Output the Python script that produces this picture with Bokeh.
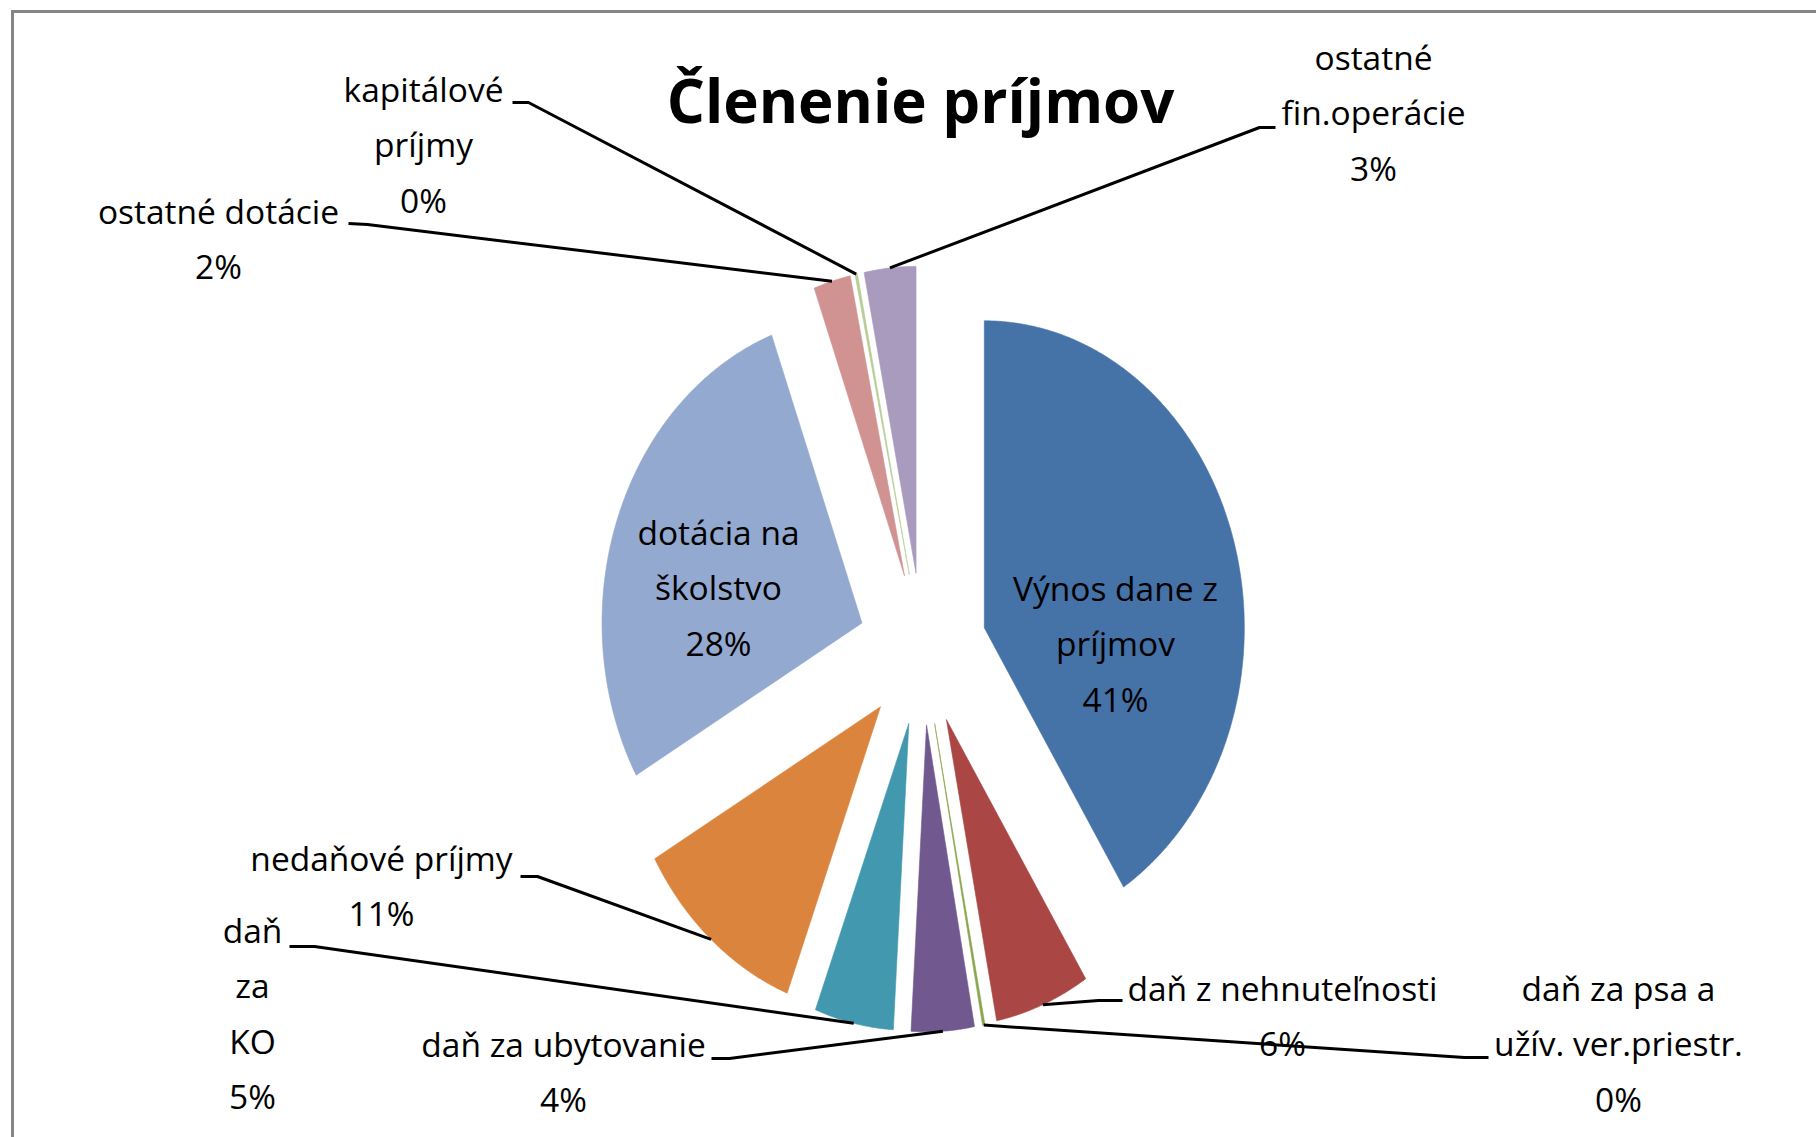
import numpy as np
from bokeh.plotting import figure
from bokeh.models import Range1d, ColumnDataSource
from bokeh.core.properties import value
from bokeh.embed import file_html
from bokeh.resources import INLINE

# ---------------- data ----------------
categories = [
    "Výnos dane z príjmov",
    "daň z nehnuteľnosti",
    "daň za psa a užív. ver.priestr.",
    "daň za ubytovanie",
    "daň za KO",
    "nedaňové príjmy",
    "dotácia na školstvo",
    "ostatné dotácie",
    "kapitálové príjmy",
    "ostatné fin.operácie",
]
shares = [41.0, 5.9, 0.15, 3.9, 4.9, 10.9, 27.6, 2.3, 0.15, 3.2]
colors = ["#4572A7", "#AA4643", "#89A54E", "#71588F", "#4198AF",
          "#DB843D", "#93A9CF", "#D19392", "#B9CD96", "#A99BBD"]
label_lines = [
    ["Výnos dane z", "príjmov"],
    ["daň z nehnuteľnosti"],
    ["daň za psa a", "užív. ver.priestr."],
    ["daň za ubytovanie"],
    ["daň", "za", "KO"],
    ["nedaňové príjmy"],
    ["dotácia na", "školstvo"],
    ["ostatné dotácie"],
    ["kapitálové", "príjmy"],
    ["ostatné", "fin.operácie"],
]
title_text = "Členenie príjmov"

# ---------------- layout (page pixels) ----------------
W, H = 1816, 1137
CX, CY = 922.0, 648.5
RX, RY = 260.0, 307.0
EXPLODE = 76.0
LINE_H = 55.5
LABEL_SIZE = 33.5
TITLE_SIZE = 60
BASE_SHIFT = 0.47  # em: renderer places 'alphabetic' text lower than the true baseline
# label block: center x, first baseline, leader attach point, elbow point
label_layout = [
    (1115, 603, None, None),
    (1282, 1003, (1122, 1000), (1098, 1000)),
    (1618, 1003, (1488, 1057), (1464, 1057)),
    (563, 1059, (711, 1058), (729, 1058)),
    (252, 945, (289, 946), (314, 946)),
    (381, 873, (520, 876), (537, 876)),
    (718, 547, None, None),
    (218, 226, (348, 223), (367, 224)),
    (423, 104, (512, 102), (528, 102)),
    (1373, 72, (1275, 127), (1259, 127)),
]

p = figure(width=W, height=H, output_backend="svg", toolbar_location=None,
           x_range=Range1d(0, W), y_range=Range1d(H, 0),
           x_axis_type=None, y_axis_type=None, min_border=0)
p.grid.visible = False
p.outline_line_color = None
p.background_fill_color = "white"

# chart border (top and left visible)
p.line([10.5, W], [11, 11], line_color="#868686", line_width=3)
p.line([12, 12], [10, H], line_color="#868686", line_width=3)

total = float(sum(shares))
cum = np.concatenate([[0.0], np.cumsum(shares)]) / total * 360.0

xs, ys, anchors = [], [], []
for i, v in enumerate(shares):
    a0, a1 = np.radians(cum[i]), np.radians(cum[i + 1])
    bis = 0.5 * (a0 + a1)
    ox = CX + np.sin(bis) * EXPLODE * RX / RY
    oy = CY - np.cos(bis) * EXPLODE
    n = max(3, int(np.degrees(a1 - a0) * 2) + 3)
    t = np.linspace(a0, a1, n)
    xs.append([ox] + list(ox + RX * np.sin(t)))
    ys.append([oy] + list(oy - RY * np.cos(t)))
    anchors.append((ox + RX * np.sin(bis), oy - RY * np.cos(bis)))

src = ColumnDataSource(dict(xs=xs, ys=ys, color=colors, name=categories))
p.patches("xs", "ys", source=src, fill_color="color", line_color="color",
          line_width=0.6)

# labels
tx, ty, tt = [], [], []
for i, lines in enumerate(label_lines):
    pct = f"{round(shares[i] / total * 100):.0f}%"
    cx, b0, _, _ = label_layout[i]
    for k, s in enumerate(lines + [pct]):
        tx.append(cx)
        ty.append(b0 + k * LINE_H - BASE_SHIFT * LABEL_SIZE)
        tt.append(s)
p.text(x=tx, y=ty, text=tt, text_font=value("Open Sans"),
       text_font_size=f"{LABEL_SIZE}px", text_align="center",
       text_baseline="alphabetic", text_color="#000000")

# leader lines
lx, ly = [], []
for i, (cx, b0, attach, elbow) in enumerate(label_layout):
    if attach is None:
        continue
    ax, ay = anchors[i]
    lx.append([ax, elbow[0], attach[0]])
    ly.append([ay, elbow[1], attach[1]])
p.multi_line(lx, ly, line_color="#000000", line_width=3)

# title
p.text(x=[920], y=[126 - 0.44 * TITLE_SIZE], text=[title_text],
       text_font=value("Open Sans"), text_font_style="bold",
       text_font_size=f"{TITLE_SIZE}px", text_align="center",
       text_baseline="alphabetic", text_color="#000000")

open("out.html", "w").write(file_html(p, INLINE))
